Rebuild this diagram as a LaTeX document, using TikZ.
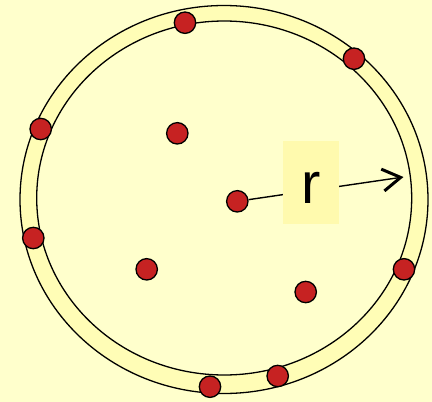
\documentclass[tikz,border=0pt]{standalone}
\usepackage{fontspec}
\setmainfont{Liberation Sans}
\usetikzlibrary{arrows.meta}
\definecolor{bg}{HTML}{FFFFCC}
\definecolor{ringc}{HTML}{FFFDB6}
\definecolor{boxc}{HTML}{FFFAAE}
\definecolor{dotred}{HTML}{C62222}
\tikzset{
  pt/.style={circle,draw=black,line width=1.3pt,fill=dotred,minimum size=21.4pt,inner sep=0pt},
  rim/.style={draw=black,line width=1.3pt},
  lbl/.style={fill=boxc,minimum width=55.7pt,minimum height=83.3pt,inner sep=0pt,
    text height=41.2pt,text depth=0pt,font=\fontsize{58}{58}\selectfont},
  radius arrow/.style={line width=1.4pt,-{Straight Barb[length=18pt,width=22pt,line width=3pt]}}
}
\begin{document}
\begin{tikzpicture}[x=1pt,y=-1pt]
\fill[bg] (0,0) rectangle (432,402);
\useasboundingbox (0,0) rectangle (432,402);
% ring
\fill[ringc] (224,199.5) ellipse [x radius=204,y radius=194];
\fill[bg] (224.2,198) ellipse [x radius=187.5,y radius=177];
\draw[rim] (224,199.5) ellipse [x radius=204,y radius=194];
\draw[rim] (224.2,198) ellipse [x radius=187.5,y radius=177];
% radius
\coordinate (tip) at (403.5,177);
\node[pt] (c) at (237.3,201.3) {};
\draw[radius arrow] (c) -- (tip);
\node[lbl] (r) at (311.2,182.4) {r};
% points on the ring
\node[pt] (p1) at (185,22.7) {};
\node[pt] (p2) at (354,58.7) {};
\node[pt] (p3) at (40.7,129) {};
\node[pt] (p4) at (33.3,238) {};
\node[pt] (p5) at (404,269.3) {};
\node[pt] (p6) at (210,386.7) {};
\node[pt] (p7) at (277.7,376) {};
% interior points
\node[pt] (q1) at (177.3,133.3) {};
\node[pt] (q2) at (146.7,269.3) {};
\node[pt] (q3) at (305.7,292) {};
\end{tikzpicture}
\end{document}
